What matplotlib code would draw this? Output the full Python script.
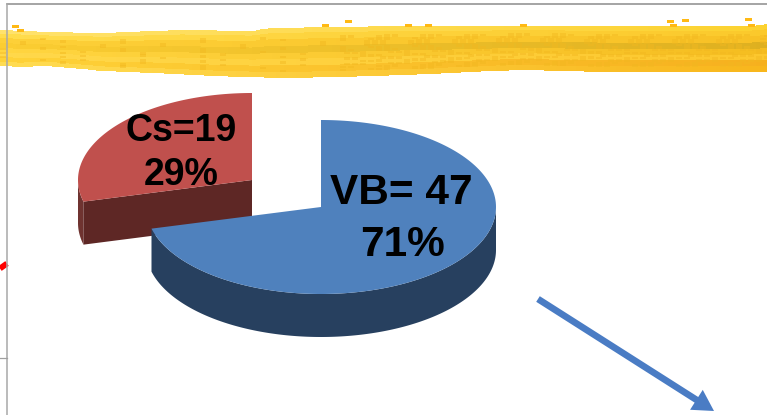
import numpy as np
import matplotlib
matplotlib.use('Agg')
import matplotlib.pyplot as plt
from matplotlib.patches import Polygon, FancyArrowPatch

labels = ['VB', 'Cs']
counts = [47, 19]
percents = [71, 29]

# brush stroke outline
band_top_x = [0, 43, 100, 180, 250, 270, 400, 540, 750, 767]
band_top_y = [30, 32, 33, 30, 31, 28, 26, 26, 26, 24]
band_bot_x = [0, 18, 45, 80, 100, 150, 210, 280, 340, 400, 430, 490, 520, 600, 680, 767]
band_bot_y = [66, 67, 66, 69, 71, 73, 76, 78, 77, 75, 74, 71, 70, 72, 72, 72]
# position across the band, colour
band_pos = [0.0, 0.1, 0.22, 0.36, 0.5, 0.62, 0.75, 0.88, 1.0]
band_left = ['#ffe26c', '#ffdc4c', '#fdd038', '#fbcd32', '#ffd540', '#ffd84a', '#fed238', '#ffdc52', '#ffe98c']
band_right = ['#fcd22f', '#fbc92b', '#f8c125', '#deb020', '#f5bd20', '#fcc72d', '#f6b01e', '#f8b61c', '#ffe064']
flecks_x = [12, 17, 322, 345, 405, 425, 520, 667, 682, 745, 670, 748]
flecks_y = [25, 29, 24, 20, 24, 24, 24, 20, 19, 18, 24, 24]

W, H = 767, 415
fig = plt.figure(figsize=(W / 100, H / 100), dpi=100)
ax = fig.add_axes([0, 0, 1, 1])
ax.set_xlim(0, W)
ax.set_ylim(H, 0)
ax.axis('off')

# slide frame left over behind the chart
ax.plot([0, 7], [268.5, 263.5], color='#ff0000', lw=4.2, solid_capstyle='butt')
ax.plot([7, W], [4.5, 4.5], color='#8c8c8c', lw=1.1)
ax.plot([7, 7], [4.5, H], color='#a8a8a8', lw=1.1)
ax.plot([0, 7], [358, 358], color='#a0a0a0', lw=0.9)

# brush stroke
xs = np.arange(0, W + 4, 4)
top = np.interp(xs, band_top_x, band_top_y)
bot = np.interp(xs, band_bot_x, band_bot_y)
for i in range(len(band_pos) - 1):
    for j, x in enumerate(xs[:-1]):
        t = x / W
        c0 = matplotlib.colors.to_rgb(band_left[i])
        c1 = matplotlib.colors.to_rgb(band_right[i])
        col = [(1 - t) * a + t * b for a, b in zip(c0, c1)]
        y0 = top[j] + band_pos[i] * (bot[j] - top[j])
        y1 = top[j] + band_pos[i + 1] * (bot[j] - top[j])
        ax.fill_between([x, x + 4.5], y0, y1, color=col, lw=0)
# mottled streaks, stronger towards the right
for j, x in enumerate(xs[:-1]):
    if x < 340 and j % 5:
        continue
    for k in range(3, 16):
        if (j * 5 + k * k * 3) % 11 < 3:
            y = top[j] + (bot[j] - top[j]) * k / 18
            ax.fill_between([x, x + 6], y, y + 2.5, color='#f2b820', lw=0, alpha=0.45)
for x, y in zip(flecks_x, flecks_y):
    ax.fill_between([x, x + 7], y, y + 3, color='#ffb914', lw=0)


def wedge(cx, cy, a, b, start, end):
    # angles are clockwise from 12 o'clock
    th = np.radians(np.linspace(start, end, 200))
    return cx + a * np.sin(th), cy - b * np.cos(th)


depth = 43
split = 360 * percents[0] / sum(percents)

# Cs slice pulled out to the upper left
cx, cy, a, b = 252, 180, 174, 87
px, py = wedge(cx, cy, a, b, split, 270)
ax.add_patch(Polygon(np.c_[np.r_[px, px[::-1]], np.r_[py, py[::-1] + depth]], color='#6f3330', lw=0))
ex, ey = px[0], py[0]
ax.add_patch(Polygon([(ex, ey), (cx, cy), (cx, cy + depth), (ex, ey + depth)], color='#5e2725', lw=0))
px, py = wedge(cx, cy, a, b, split, 360)
ax.add_patch(Polygon(np.c_[np.r_[cx, px], np.r_[cy, py]], color='#c0504d', lw=0))

# VB slice
cx, cy, a, b = 321, 207, 175, 87
px, py = wedge(cx, cy, a, b, 90, split)
ax.add_patch(Polygon(np.c_[np.r_[px, px[::-1]], np.r_[py, py[::-1] + depth]], color='#27405f', lw=0))
px, py = wedge(cx, cy, a, b, 0, split)
ax.add_patch(Polygon(np.c_[np.r_[cx, px], np.r_[cy, py]], color='#4f81bd', lw=0))

font = ['Liberation Sans', 'DejaVu Sans']
ax.text(181, 131, f'{labels[1]}={counts[1]}', family=font, weight='bold', fontsize=27, ha='center', va='center', color='black')
ax.text(181, 175, f'{percents[1]}%', family=font, weight='bold', fontsize=27, ha='center', va='center', color='black')
ax.text(401, 193, f'{labels[0]}= {counts[0]}', family=font, weight='bold', fontsize=30.5, ha='center', va='center', color='black')
ax.text(402, 245, f'{percents[0]}%', family=font, weight='bold', fontsize=30.5, ha='center', va='center', color='black')

ax.add_patch(FancyArrowPatch((538, 299), (714, 411),
                             arrowstyle='simple,head_length=15,head_width=17,tail_width=4.8',
                             mutation_scale=1, color='#4a7cc4', lw=0, shrinkA=0, shrinkB=0))

fig.savefig('out.png', dpi=100)
